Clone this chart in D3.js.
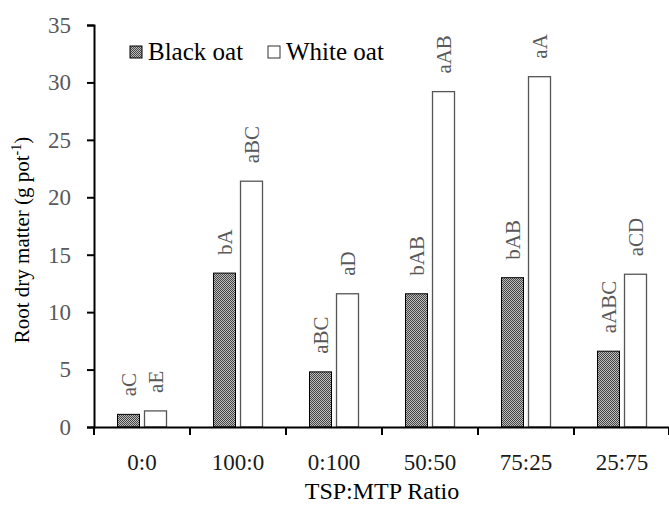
<!DOCTYPE html>
<html>
<head>
<meta charset="utf-8">
<script src="https://cdn.jsdelivr.net/npm/d3@7"></script>
<style>
  body { margin: 0; background: #fff; }
  text { font-family: "Liberation Serif", "Times New Roman", serif; }
</style>
</head>
<body>
<script>
var ratios = ["0:0", "100:0", "0:100", "50:50", "75:25", "25:75"];
var series = ["Black oat", "White oat"];
var blackOat = [1.1, 13.4, 4.8, 11.6, 13.0, 6.6];
var whiteOat = [1.4, 21.4, 11.6, 29.2, 30.5, 13.3];
var blackLetters = ["aC", "bA", "aBC", "bAB", "bAB", "aABC"];
var whiteLetters = ["aE", "aBC", "aD", "aAB", "aA", "aCD"];
var yTicks = [0, 5, 10, 15, 20, 25, 30, 35];

var width = 669,
  height = 506;
var serif = "Liberation Serif, Times New Roman, serif";

var svg = d3.select("body").append("svg")
  .attr("width", width)
  .attr("height", height);

var defs = svg.append("defs");
var pat = defs.append("pattern")
  .attr("id", "checker")
  .attr("width", 2)
  .attr("height", 2)
  .attr("patternUnits", "userSpaceOnUse");
pat.append("rect").attr("width", 2).attr("height", 2).attr("fill", "#bdbdbd");
pat.append("rect").attr("width", 1).attr("height", 1).attr("fill", "#454545");
pat.append("rect").attr("x", 1).attr("y", 1).attr("width", 1).attr("height", 1).attr("fill", "#454545");

var x = d3.scaleBand()
  .domain(ratios)
  .range([94, 670]);

var xs = d3.scaleBand()
  .domain(series)
  .range([23.5, 72.5])
  .paddingInner(5 / 27);

var y = d3.scaleLinear()
  .domain([0, 35])
  .range([427, 25]);

var rows = ratios.map(function (r, i) {
  return [
    { ratio: r, s: "Black oat", v: blackOat[i], label: blackLetters[i] },
    { ratio: r, s: "White oat", v: whiteOat[i], label: whiteLetters[i] }
  ];
});
var flat = d3.merge(rows);

// bars
svg.append("g").selectAll("rect")
  .data(flat)
  .enter().append("rect")
  .attr("x", function (d) { return x(d.ratio) + xs(d.s); })
  .attr("y", function (d) { return y(d.v); })
  .attr("width", xs.bandwidth())
  .attr("height", function (d) { return y(0) - y(d.v); })
  .attr("fill", function (d) { return d.s === "Black oat" ? "url(#checker)" : "#fff"; })
  .attr("stroke", function (d) { return d.s === "Black oat" ? "#000" : "#555"; })
  .attr("stroke-width", function (d) { return d.s === "Black oat" ? 1 : 1.3; });

// letters
svg.append("g").selectAll("text")
  .data(flat)
  .enter().append("text")
  .attr("transform", function (d) {
    return "translate(" + (x(d.ratio) + xs(d.s) + xs.bandwidth() / 2) + "," + (y(d.v) - 18) + ") rotate(-90)";
  })
  .attr("dy", "0.35em")
  .attr("font-size", 21)
  .attr("fill", "#595959")
  .text(function (d) { return d.label; });

// y axis
var yAxis = svg.append("g")
  .attr("transform", "translate(94,0)")
  .call(d3.axisLeft(y).tickValues(yTicks).tickSize(7).tickPadding(16));
yAxis.select(".domain").attr("stroke", "#000").attr("stroke-width", 2);
yAxis.selectAll(".tick line").attr("stroke", "#000").attr("stroke-width", 2);
yAxis.selectAll(".tick text")
  .attr("font-size", 23)
  .attr("font-family", serif)
  .attr("fill", "#595959");

// x axis
var xAxis = svg.append("g")
  .attr("transform", "translate(0,427)")
  .call(d3.axisBottom(x).tickSize(0).tickPadding(27));
xAxis.select(".domain").attr("stroke", "#000").attr("stroke-width", 2);
xAxis.selectAll(".tick text")
  .attr("font-size", 23)
  .attr("font-family", serif)
  .attr("fill", "#1a1a1a");
svg.append("g").selectAll("line")
  .data(ratios.concat(["end"]))
  .enter().append("line")
  .attr("x1", function (d) { return d === "end" ? x.range()[1] - 1 : x(d); })
  .attr("x2", function (d) { return d === "end" ? x.range()[1] - 1 : x(d); })
  .attr("y1", 427)
  .attr("y2", 435)
  .attr("stroke", "#000")
  .attr("stroke-width", 2);

// titles
svg.append("text")
  .attr("x", 382)
  .attr("y", 499)
  .attr("text-anchor", "middle")
  .attr("font-size", 24)
  .attr("fill", "#000")
  .text("TSP:MTP Ratio");

var yt = svg.append("text")
  .attr("transform", "translate(29,240) rotate(-90)")
  .attr("text-anchor", "middle")
  .attr("font-size", 21)
  .attr("fill", "#000");
yt.append("tspan").text("Root dry matter (g pot");
yt.append("tspan").attr("dy", -8).attr("font-size", 14).text("-1");
yt.append("tspan").attr("dy", 8).text(")");

// legend
var legend = svg.append("g").selectAll("g")
  .data(series)
  .enter().append("g")
  .attr("transform", function (d, i) { return "translate(" + (i === 0 ? 130 : 268) + ",46)"; });
legend.append("rect")
  .attr("width", 12)
  .attr("height", 12)
  .attr("fill", function (d) { return d === "Black oat" ? "url(#checker)" : "#fff"; })
  .attr("stroke", function (d) { return d === "Black oat" ? "#000" : "#333"; })
  .attr("stroke-width", 1);
legend.append("text")
  .attr("x", 18)
  .attr("y", 14)
  .attr("font-size", 25)
  .attr("fill", "#000")
  .text(function (d) { return d; });
</script>
</body>
</html>
